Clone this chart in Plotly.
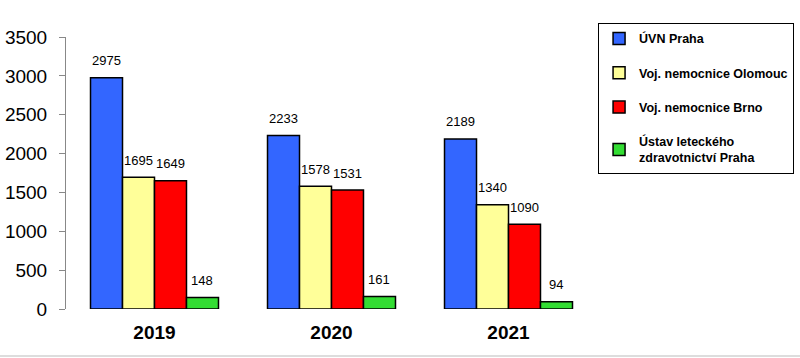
import plotly.graph_objects as go

years = ["2019", "2020", "2021"]
series_names = ["ÚVN Praha", "Voj. nemocnice Olomouc", "Voj. nemocnice Brno",
                "Ústav leteckého<br>zdravotnictví Praha"]
uvn = [2975, 2233, 2189]
olomouc = [1695, 1578, 1340]
brno = [1649, 1531, 1090]
ulz = [148, 161, 94]
y_ticks = [0, 500, 1000, 1500, 2000, 2500, 3000, 3500]

series_values = [uvn, olomouc, brno, ulz]
colors = ["#3366FF", "#FFFF99", "#FF0000", "#33DD33"]

fig = go.Figure()
for k, (name, vals, col) in enumerate(zip(series_names, series_values, colors)):
    fig.add_trace(go.Bar(
        x=years, y=vals, name=name, legendgroup=str(k),
        marker=dict(color=col, line=dict(color="black", width=1.5)),
    ))

bargap = 0.277
n = len(series_values)
bw = (1 - bargap) / n
annotations = []
for k, vals in enumerate(series_values):
    for i, v in enumerate(vals):
        xpos = i - (1 - bargap) / 2 + bw * (k + 0.5)
        annotations.append(dict(
            x=xpos, y=v, xref="x", yref="y", text=str(v), showarrow=False,
            yanchor="middle", yshift=17,
            font=dict(family="Liberation Sans, Arial", size=13, color="black"),
        ))

fig.update_layout(
    width=800, height=358,
    margin=dict(l=66, r=203, t=37, b=49, autoexpand=False),
    barmode="group", bargap=bargap, bargroupgap=0,
    plot_bgcolor="white", paper_bgcolor="white",
    font=dict(family="Liberation Sans, Arial", color="black"),
    showlegend=True,
    legend=dict(
        x=1.002, y=1.0515, xanchor="left", yanchor="top",
        bordercolor="black", borderwidth=1, bgcolor="white",
        font=dict(family="Liberation Sans, Arial", size=12.5, color="black", weight="bold"),
        traceorder="grouped", tracegroupgap=15,
    ),
    annotations=annotations,
    shapes=[dict(type="line", xref="paper", yref="paper",
                 x0=-0.2, x1=1.5, y0=-0.173, y1=-0.173,
                 line=dict(color="#DDDDDD", width=2))],
)
fig.update_xaxes(
    type="category", range=[-0.5, 2.5], showline=False, ticks="",
    tickfont=dict(family="Liberation Sans, Arial", size=19, color="black", weight="bold"),
    ticklabelstandoff=10, showgrid=False, automargin=False,
)
fig.update_yaxes(
    range=[0, 3500], tickvals=y_ticks, showgrid=False, zeroline=False,
    showline=True, linecolor="#888888", linewidth=1,
    ticks="outside", ticklen=6, tickcolor="#888888",
    tickfont=dict(family="Liberation Sans, Arial", size=19, color="black"),
    ticklabelstandoff=8, automargin=False,
)

fig.write_html("out.html", config={"displayModeBar": False},
               post_script="document.body.style.margin='0px';document.body.style.overflow='hidden';")
